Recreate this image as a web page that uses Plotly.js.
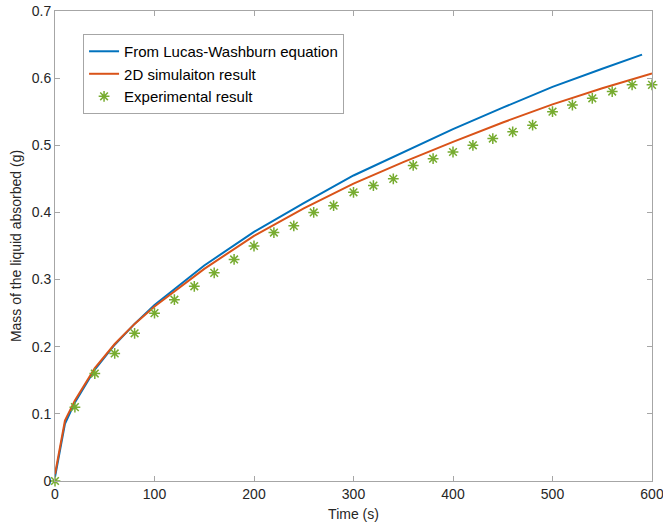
<!DOCTYPE html>
<html>
<head>
<meta charset="utf-8">
<script src="https://cdn.plot.ly/plotly-3.0.1.min.js"></script>
<style>html,body{margin:0;padding:0;background:#fff;}#chart{width:663px;height:527px;}</style>
</head>
<body>
<div id="chart"></div>
<script>
// Lucas-Washburn curve
var lwTime = [0, 10, 20, 40, 60, 80, 100, 150, 200, 250, 300, 350, 400, 450, 500, 550, 590];
var lwMass = [0.006, 0.085, 0.117, 0.166, 0.203, 0.234, 0.262, 0.321, 0.371, 0.414, 0.455, 0.490, 0.524, 0.556, 0.587, 0.614, 0.635];

// 2D simulation curve
var simTime = [0, 10, 20, 40, 60, 80, 100, 150, 200, 250, 300, 350, 400, 450, 500, 550, 600];
var simMass = [0.01, 0.09, 0.12, 0.168, 0.204, 0.234, 0.260, 0.316, 0.365, 0.406, 0.443, 0.475, 0.505, 0.534, 0.561, 0.585, 0.607];

// Experimental points
var expTime = [0, 20, 40, 60, 80, 100, 120, 140, 160, 180, 200, 220, 240, 260, 280, 300,
               320, 340, 360, 380, 400, 420, 440, 460, 480, 500, 520, 540, 560, 580, 600];
var expMass = [0, 0.11, 0.16, 0.19, 0.22, 0.25, 0.27, 0.29, 0.31, 0.33, 0.35, 0.37, 0.38, 0.40, 0.41, 0.43,
               0.44, 0.45, 0.47, 0.48, 0.49, 0.50, 0.51, 0.52, 0.53, 0.55, 0.56, 0.57, 0.58, 0.59, 0.59];

var seriesNames = ["From Lucas-Washburn equation", "2D simulaiton result", "Experimental result"];

var traces = [
  {x: lwTime, y: lwMass, mode: 'lines', name: seriesNames[0],
   line: {color: '#0072BD', width: 2}},
  {x: simTime, y: simMass, mode: 'lines', name: seriesNames[1],
   line: {color: '#D95319', width: 2}},
  {x: expTime, y: expMass, mode: 'markers', name: seriesNames[2], cliponaxis: false,
   marker: {symbol: 'asterisk-open', size: 9, color: '#77AC30', line: {color: '#77AC30', width: 1.5}}}
];

var axisCommon = {
  showline: true, linecolor: '#a6a6a6', linewidth: 1, mirror: 'ticks',
  ticks: 'inside', ticklen: 5, tickcolor: '#a6a6a6', tickwidth: 1,
  showgrid: false, zeroline: false, ticklabeloverflow: 'allow',
  tickfont: {family: 'Liberation Sans, Arial, sans-serif', size: 14, color: '#262626'}
};

var layout = {
  width: 663, height: 527,
  margin: {l: 55, r: 11, t: 11, b: 46},
  paper_bgcolor: '#ffffff', plot_bgcolor: '#ffffff',
  font: {family: 'Liberation Sans, Arial, sans-serif', size: 14, color: '#262626'},
  xaxis: Object.assign({}, axisCommon, {
    range: [0, 600], tick0: 0, dtick: 100,
    title: {text: 'Time (s)', font: {size: 14, color: '#262626'}, standoff: 8}
  }),
  yaxis: Object.assign({}, axisCommon, {
    range: [0, 0.7], tick0: 0, dtick: 0.1,
    title: {text: 'Mass of the liquid absorbed (g)', font: {size: 14, color: '#262626'}, standoff: 6}
  }),
  showlegend: true,
  legend: {
    x: 0.047, y: 0.951, xanchor: 'left', yanchor: 'top',
    bgcolor: '#ffffff', bordercolor: '#a6a6a6', borderwidth: 1,
    font: {size: 15, color: '#000000'},
    tracegroupgap: 0
  }
};

Plotly.newPlot('chart', traces, layout, {displayModeBar: false, staticPlot: true});
</script>
</body>
</html>
